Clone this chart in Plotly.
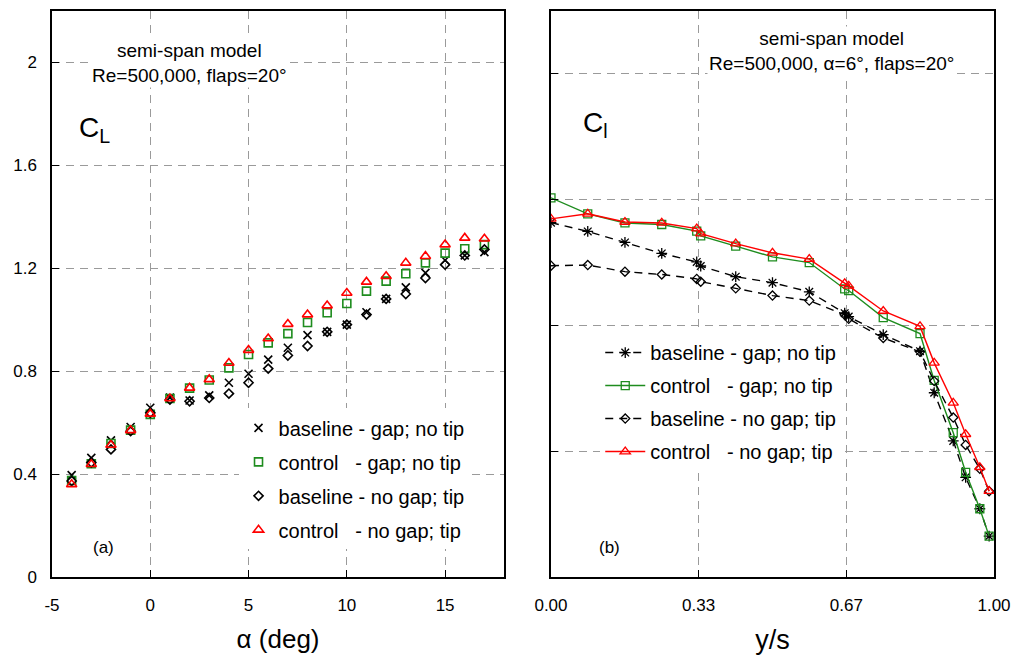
import plotly.graph_objects as go

# ---------------- data: panel (a) ----------------
alpha = [-4, -3, -2, -1, 0, 1, 2, 3, 4, 5, 6, 7, 8, 9, 10, 11, 12, 13, 14, 15, 16, 17]
CL_base_gap = [0.396, 0.463, 0.531, 0.583, 0.658, 0.697, 0.686, 0.706, 0.755, 0.790, 0.845, 0.891,
               0.940, 0.953, 0.981, 1.029, 1.081, 1.126, 1.182, 1.231, 1.250, 1.263]
CL_ctrl_gap = [0.375, 0.440, 0.519, 0.571, 0.632, 0.694, 0.734, 0.766, 0.813, 0.865, 0.910, 0.946,
               0.989, 1.027, 1.063, 1.111, 1.150, 1.179, 1.221, 1.259, 1.276, 1.292]
CL_base_nogap = [0.373, 0.445, 0.496, 0.567, 0.638, 0.690, 0.683, 0.696, 0.713, 0.755, 0.810, 0.861,
                 0.898, 0.953, 0.981, 1.020, 1.081, 1.100, 1.162, 1.214, 1.250, 1.273]
CL_ctrl_nogap = [0.360, 0.438, 0.513, 0.570, 0.634, 0.694, 0.735, 0.768, 0.832, 0.882, 0.927, 0.983,
                 1.020, 1.055, 1.104, 1.147, 1.169, 1.221, 1.247, 1.292, 1.318, 1.315]

xticks_a = [-5, 0, 5, 10, 15]
xticktext_a = ["-5", "0", "5", "10", "15"]
yticks_a = [0, 0.4, 0.8, 1.2, 1.6, 2.0]
yticktext_a = ["0", "0.4", "0.8", "1.2", "1.6", "2"]

# ---------------- data: panel (b) ----------------
ys = [0.0, 0.083, 0.167, 0.25, 0.329, 0.338, 0.417, 0.5, 0.583, 0.663, 0.672, 0.75,
      0.833, 0.865, 0.908, 0.936, 0.968, 0.989]
Cl_base_gap = [1.127, 1.099, 1.064, 1.029, 1.002, 0.989, 0.955, 0.936, 0.907, 0.839, 0.828, 0.771,
               0.718, 0.586, 0.433, 0.317, 0.217, 0.130]
Cl_ctrl_gap = [1.206, 1.155, 1.126, 1.121, 1.100, 1.085, 1.052, 1.018, 1.000, 0.916, 0.911, 0.825,
               0.774, 0.625, 0.459, 0.333, 0.217, 0.130]
Cl_base_nogap = [0.990, 0.992, 0.971, 0.962, 0.948, 0.939, 0.918, 0.895, 0.879, 0.834, 0.821, 0.760,
                 0.716, 0.623, 0.507, 0.420, 0.344, 0.273]
Cl_ctrl_nogap = [1.139, 1.155, 1.129, 1.126, 1.108, 1.092, 1.060, 1.031, 1.011, 0.934, 0.926, 0.846,
                 0.797, 0.681, 0.554, 0.454, 0.349, 0.273]

xticks_b = [0, 1 / 3, 2 / 3, 1]
xticktext_b = ["0.00", "0.33", "0.67", "1.00"]
yticks_b = [0.4, 0.8, 1.2, 1.6]

labels = ["baseline - gap; no tip", "control   - gap; no tip",
          "baseline - no gap; tip", "control   - no gap; tip"]

FONT = "Liberation Sans, Arial, Helvetica, sans-serif"
GREEN = "#1e8c1e"
RED = "#ff0000"
BLACK = "#000000"

fig = go.Figure()

# panel (a): markers only
styles_a = [
    ("x-thin-open", BLACK, 8, CL_base_gap),
    ("square-open", GREEN, 8, CL_ctrl_gap),
    ("diamond-open", BLACK, 7, CL_base_nogap),
    ("triangle-up-open", RED, 9, CL_ctrl_nogap),
]
for i, (sym, col, sz, vals) in enumerate(styles_a):
    fig.add_trace(go.Scatter(
        x=alpha, y=vals, mode="markers", name=labels[i],
        marker=dict(symbol=sym, color=col, size=sz, line=dict(color=col, width=1.6)),
        xaxis="x", yaxis="y", legend="legend", legendgroup=f"a{i}",
    ))

# panel (b): lines + markers
styles_b = [
    ("asterisk-open", BLACK, 9, "dash", Cl_base_gap),
    ("square-open", GREEN, 8, "solid", Cl_ctrl_gap),
    ("diamond-open", BLACK, 7, "dash", Cl_base_nogap),
    ("triangle-up-open", RED, 9, "solid", Cl_ctrl_nogap),
]
for i, (sym, col, sz, dash, vals) in enumerate(styles_b):
    fig.add_trace(go.Scatter(
        x=ys, y=vals, mode="lines+markers", name=labels[i],
        line=dict(color=col, width=1.4, dash="8px,6px" if dash == "dash" else "solid"),
        marker=dict(symbol=sym, color=col, size=sz, line=dict(color=col, width=1.3)),
        xaxis="x2", yaxis="y2", legend="legend2", legendgroup=f"b{i}",
    ))

axis_common = dict(
    showline=True, linecolor="black", linewidth=1.5, mirror=True,
    ticks="inside", ticklen=7, tickcolor="black", tickwidth=1.2,
    showgrid=True, gridcolor="#9a9a9a", gridwidth=1, griddash="8px,6px",
    zeroline=False, tickfont=dict(family=FONT, size=17, color="black"),
)

fig.update_layout(
    width=1020, height=662,
    margin=dict(l=52, r=24, t=9, b=85),
    paper_bgcolor="white", plot_bgcolor="white",
    font=dict(family=FONT, color="black"),
    xaxis=dict(domain=[0, 0.4799], range=[-5, 18], tickvals=xticks_a, ticktext=xticktext_a,
               ticklabelstandoff=12,
               title=dict(text="α (deg)", font=dict(size=26, family=FONT), standoff=16),
               **axis_common),
    yaxis=dict(domain=[0, 1], range=[0, 2.2], tickvals=yticks_a,
               ticktext=yticktext_a, ticklabelstandoff=10,
               **axis_common),
    xaxis2=dict(domain=[0.5297, 1], range=[0, 1], tickvals=xticks_b, ticktext=xticktext_b,
                ticklabelstandoff=12, anchor="y2",
                title=dict(text="y/s", font=dict(size=27, family=FONT), standoff=16),
                **axis_common),
    yaxis2=dict(domain=[0, 1], range=[0, 1.8], tickvals=yticks_b,
                showticklabels=False, anchor="x2", **axis_common),
    legend=dict(x=0.198, y=0.298, xanchor="left", yanchor="top", bgcolor="white",
                font=dict(family=FONT, size=20), tracegroupgap=5, itemwidth=30,
                traceorder="grouped"),
    legend2=dict(x=0.582, y=0.431, xanchor="left", yanchor="top", bgcolor="white",
                 font=dict(family=FONT, size=20), tracegroupgap=4, itemwidth=40,
                 traceorder="grouped"),
    showlegend=True,
)

ann_font = dict(family=FONT, size=19, color="black")
fig.add_annotation(x=0.305, y=0.952, xref="x domain", yref="y domain", xanchor="center",
                   yanchor="top", text="semi-span model<br>Re=500,000, flaps=20°",
                   showarrow=False, font=ann_font, bgcolor="white")
fig.add_annotation(x=0.633, y=0.973, xref="x2 domain", yref="y2 domain", xanchor="center",
                   yanchor="top", text="semi-span model<br>Re=500,000, α=6°, flaps=20°",
                   showarrow=False, font=ann_font, bgcolor="white")
fig.add_annotation(x=0.095, y=0.79, xref="x domain", yref="y domain", xanchor="center",
                   yanchor="middle", text="C<sub>L</sub>", showarrow=False,
                   font=dict(family=FONT, size=28, color="black"))
fig.add_annotation(x=0.1, y=0.80, xref="x2 domain", yref="y2 domain", xanchor="center",
                   yanchor="middle", text="C<sub>l</sub>", showarrow=False,
                   font=dict(family=FONT, size=28, color="black"))
fig.add_annotation(x=0.113, y=0.052, xref="x domain", yref="y domain", xanchor="center",
                   yanchor="middle", text="(a)", showarrow=False,
                   font=dict(family=FONT, size=17, color="black"))
fig.add_annotation(x=0.133, y=0.052, xref="x2 domain", yref="y2 domain", xanchor="center",
                   yanchor="middle", text="(b)", showarrow=False,
                   font=dict(family=FONT, size=17, color="black"))

fig.write_html("out.html")
